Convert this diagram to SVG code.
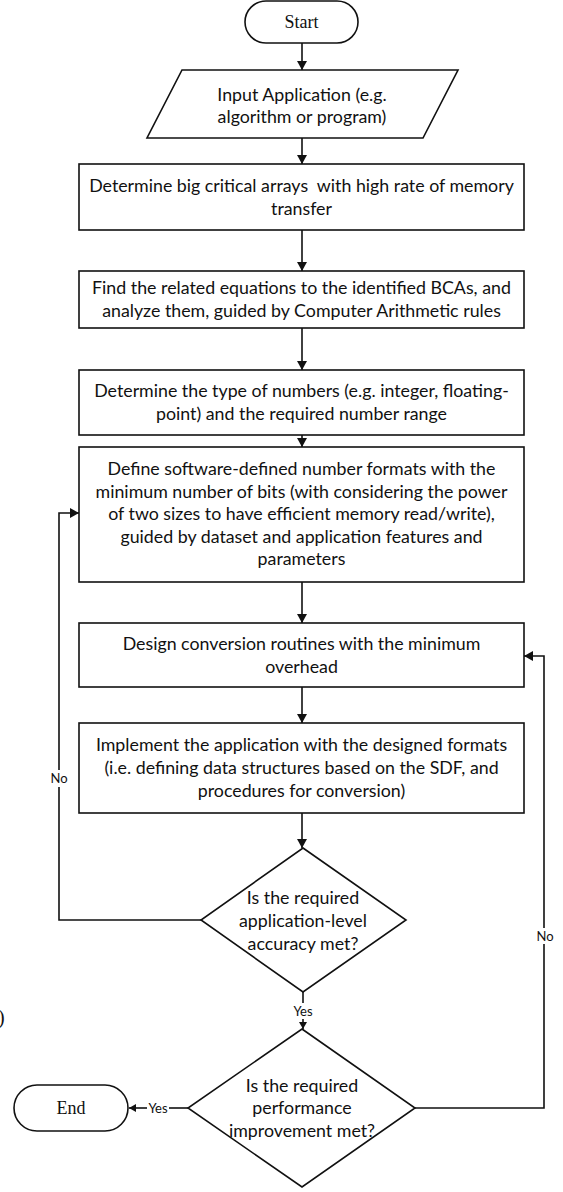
<svg xmlns="http://www.w3.org/2000/svg" width="563" height="1192" viewBox="0 0 563 1192">
  <style>
    .shape { fill: #ffffff; stroke: #111111; stroke-width: 1.6; }
    .line { fill: none; stroke: #111111; stroke-width: 1.6; }
    .txt { font-family: "Lato", "Liberation Sans", sans-serif; font-size: 17.8px; fill: #111111; text-anchor: middle; }
    .lbl { font-family: "Lato", "Liberation Sans", sans-serif; font-size: 13px; fill: #111111; text-anchor: middle; }
    .term { font-family: "Liberation Serif", "Times New Roman", serif; font-size: 18px; fill: #111111; text-anchor: middle; }
  </style>
  <defs>
    <marker id="arrow" markerUnits="userSpaceOnUse" markerWidth="10" markerHeight="10" refX="9" refY="5" orient="auto">
      <path d="M0,0 L9,5 L0,10 Z" fill="#111111"/>
    </marker>
    <marker id="arrowSmall" markerUnits="userSpaceOnUse" markerWidth="8" markerHeight="8" refX="7" refY="4" orient="auto">
      <path d="M0,0 L7,4 L0,8 Z" fill="#111111"/>
    </marker>
  </defs>

  <rect width="563" height="1192" fill="#ffffff"/>

  <!-- connectors -->
  <g id="connectors">
    <line class="line" x1="302" y1="43" x2="302" y2="70" marker-end="url(#arrow)"/>
    <line class="line" x1="302" y1="138" x2="302" y2="164" marker-end="url(#arrow)"/>
    <line class="line" x1="302" y1="230" x2="302" y2="271" marker-end="url(#arrow)"/>
    <line class="line" x1="302" y1="328" x2="302" y2="370" marker-end="url(#arrow)"/>
    <line class="line" x1="302" y1="435" x2="302" y2="447" marker-end="url(#arrow)"/>
    <line class="line" x1="302" y1="582" x2="302" y2="623" marker-end="url(#arrow)"/>
    <line class="line" x1="302" y1="687" x2="302" y2="723" marker-end="url(#arrow)"/>
    <line class="line" x1="302" y1="813" x2="302" y2="848" marker-end="url(#arrow)"/>

    <!-- accuracy not met: back to number format definition -->
    <polyline class="line" points="201,920 59,920 59,787"/>
    <polyline class="line" points="59,770 59,513 79,513" marker-end="url(#arrow)"/>
    <text class="lbl" x="59" y="783">No</text>

    <!-- accuracy met: on to performance check -->
    <line class="line" x1="303" y1="992" x2="303" y2="1003"/>
    <line class="line" x1="303" y1="1019" x2="303" y2="1029" marker-end="url(#arrowSmall)"/>
    <text class="lbl" x="303" y="1016">Yes</text>

    <!-- performance not met: back to conversion routines -->
    <polyline class="line" points="415,1108 544,1108 544,944"/>
    <polyline class="line" points="544,928 544,656 524,656" marker-end="url(#arrow)"/>
    <text class="lbl" x="545" y="940.5">No</text>

    <!-- performance met: end -->
    <line class="line" x1="188" y1="1108" x2="169" y2="1108"/>
    <line class="line" x1="147" y1="1108" x2="129" y2="1108" marker-end="url(#arrowSmall)"/>
    <text class="lbl" x="158" y="1112.5">Yes</text>
  </g>

  <g id="start">
    <rect class="shape" x="245" y="1" width="113" height="42" rx="21" ry="21"/>
    <text class="term" x="301.5" y="28">Start</text>
  </g>

  <g id="input">
    <polygon class="shape" points="182,70 458,70 423,138 147,138"/>
    <text class="txt" x="302" y="101">Input Application (e.g.</text>
    <text class="txt" x="302" y="123">algorithm or program)</text>
  </g>

  <g id="find-bcas">
    <rect class="shape" x="79" y="164" width="445" height="66"/>
    <text class="txt" x="301.5" y="192">Determine big critical arrays&#160; with high rate of memory</text>
    <text class="txt" x="301.5" y="215">transfer</text>
  </g>

  <g id="analyze-equations">
    <rect class="shape" x="79" y="271" width="445" height="57"/>
    <text class="txt" x="301.5" y="294">Find the related equations to the identified BCAs, and</text>
    <text class="txt" x="301.5" y="317">analyze them, guided by Computer Arithmetic rules</text>
  </g>

  <g id="number-type">
    <rect class="shape" x="79" y="370" width="445" height="65"/>
    <text class="txt" x="301.5" y="397">Determine the type of numbers (e.g. integer, floating-</text>
    <text class="txt" x="301.5" y="420">point) and the required number range</text>
  </g>

  <g id="define-formats">
    <rect class="shape" x="79" y="447" width="445" height="135"/>
    <text class="txt" x="301.5" y="475">Define software-defined number formats with the</text>
    <text class="txt" x="301.5" y="497.5">minimum number of bits (with considering the power</text>
    <text class="txt" x="301.5" y="520">of two sizes to have efficient memory read/write),</text>
    <text class="txt" x="301.5" y="542.5">guided by dataset and application features and</text>
    <text class="txt" x="301.5" y="565">parameters</text>
  </g>

  <g id="conversion-routines">
    <rect class="shape" x="79" y="623" width="445" height="64"/>
    <text class="txt" x="301.5" y="650">Design conversion routines with the minimum</text>
    <text class="txt" x="301.5" y="673">overhead</text>
  </g>

  <g id="implement">
    <rect class="shape" x="79" y="723" width="445" height="90"/>
    <text class="txt" x="301.5" y="751">Implement the application with the designed formats</text>
    <text class="txt" x="301.5" y="774">(i.e. defining data structures based on the SDF, and</text>
    <text class="txt" x="301.5" y="797">procedures for conversion)</text>
  </g>

  <g id="accuracy-check">
    <polygon class="shape" points="303,848 406,920 303,992 201,920"/>
    <text class="txt" x="303" y="904">Is the required</text>
    <text class="txt" x="303" y="926.5">application-level</text>
    <text class="txt" x="303" y="950">accuracy met?</text>
  </g>

  <g id="performance-check">
    <polygon class="shape" points="302,1029 415,1108 302,1187 188,1108"/>
    <text class="txt" x="302" y="1092">Is the required</text>
    <text class="txt" x="302" y="1114">performance</text>
    <text class="txt" x="302" y="1137">improvement met?</text>
  </g>

  <g id="end">
    <rect class="shape" x="14" y="1085" width="114" height="46" rx="23" ry="23"/>
    <text class="term" x="71" y="1114">End</text>
  </g>

  <text x="-2" y="1024" font-family="Liberation Serif, serif" font-size="20" fill="#111111">)</text>
</svg>
